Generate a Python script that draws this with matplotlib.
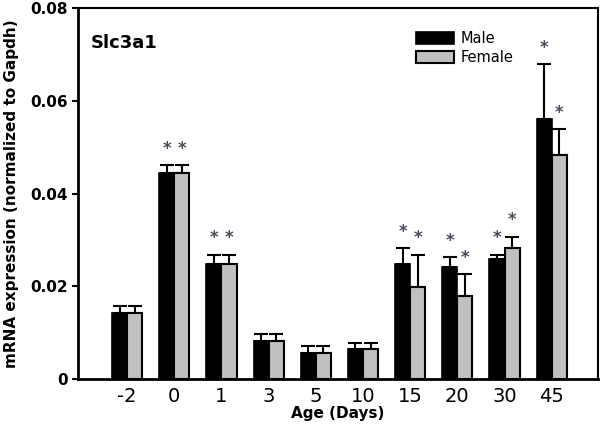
import numpy as np
import matplotlib
matplotlib.use('Agg')
import matplotlib.pyplot as plt

ages = ['-2', '0', '1', '3', '5', '10', '15', '20', '30', '45']
male = [0.0142, 0.0444, 0.0248, 0.0082, 0.0056, 0.0065, 0.0248, 0.0242, 0.0259, 0.0561]
male_err = [0.0015, 0.0017, 0.0020, 0.0015, 0.0015, 0.0013, 0.0034, 0.0021, 0.0009, 0.0118]
female = [0.0142, 0.0444, 0.0248, 0.0082, 0.0056, 0.0065, 0.0199, 0.0180, 0.0282, 0.0484]
female_err = [0.0015, 0.0017, 0.0020, 0.0015, 0.0015, 0.0012, 0.0069, 0.0046, 0.0025, 0.0055]
male_sig = [False, True, True, False, False, False, True, True, True, True]
female_sig = [False, True, True, False, False, False, True, True, True, True]

x = np.arange(len(ages))
w = 0.32

fig = plt.figure(figsize=(6, 4.25), dpi=100)
ax = fig.add_axes([78/600, 1 - 379/425, 520/600, 371/425])

ax.bar(x - w/2, male, w, color='black', edgecolor='black', linewidth=1.2, label='Male', zorder=2)
ax.bar(x + w/2, female, w, color='#c0c0c0', edgecolor='black', linewidth=1.5, label='Female', zorder=2)
ax.errorbar(x - w/2, male, yerr=[np.zeros(len(male)), male_err], fmt='none',
            ecolor='black', elinewidth=1.5, capsize=5, capthick=1.5, zorder=1)
ax.errorbar(x + w/2, female, yerr=[np.zeros(len(female)), female_err], fmt='none',
            ecolor='black', elinewidth=1.5, capsize=5, capthick=1.5, zorder=1)

# significance stars
for i in range(len(ages)):
    if male_sig[i]:
        ax.text(x[i] - w/2, male[i] + male_err[i] + 0.0035, '*', ha='center', va='center',
                fontsize=12, fontweight='bold', color='#4a4a5a')
    if female_sig[i]:
        ax.text(x[i] + w/2, female[i] + female_err[i] + 0.0035, '*', ha='center', va='center',
                fontsize=12, fontweight='bold', color='#4a4a5a')

ax.set_xlim(-1.04, 9.98)
ax.set_ylim(0, 0.08)
ax.set_xticks(x)
ax.set_xticklabels(ages, fontsize=14)
ax.tick_params(axis='x', length=0, pad=6)
ax.set_yticks([0, 0.02, 0.04, 0.06, 0.08])
ax.set_yticklabels(['0', '0.02', '0.04', '0.06', '0.08'], fontsize=11, fontweight='bold')
ax.tick_params(axis='y', length=4, width=1.5, direction='out')

for s in ['left', 'bottom']:
    ax.spines[s].set_linewidth(2)
for s in ['top', 'right']:
    ax.spines[s].set_linewidth(1.5)

ax.set_ylabel('mRNA expression (normalized to Gapdh)', fontsize=11, fontweight='bold', labelpad=8)
ax.set_xlabel('Age (Days)', fontsize=11, fontweight='bold', labelpad=0)
ax.text(0.025, 0.905, 'Slc3a1', transform=ax.transAxes, fontsize=13, fontweight='bold', va='center')

ax.legend(loc='upper left', bbox_to_anchor=(0.63, 0.965), frameon=False, fontsize=10.5,
          handlelength=2.6, handleheight=0.9, handletextpad=0.5, labelspacing=0.25, borderpad=0.2)

plt.savefig('out.png', dpi=100)
